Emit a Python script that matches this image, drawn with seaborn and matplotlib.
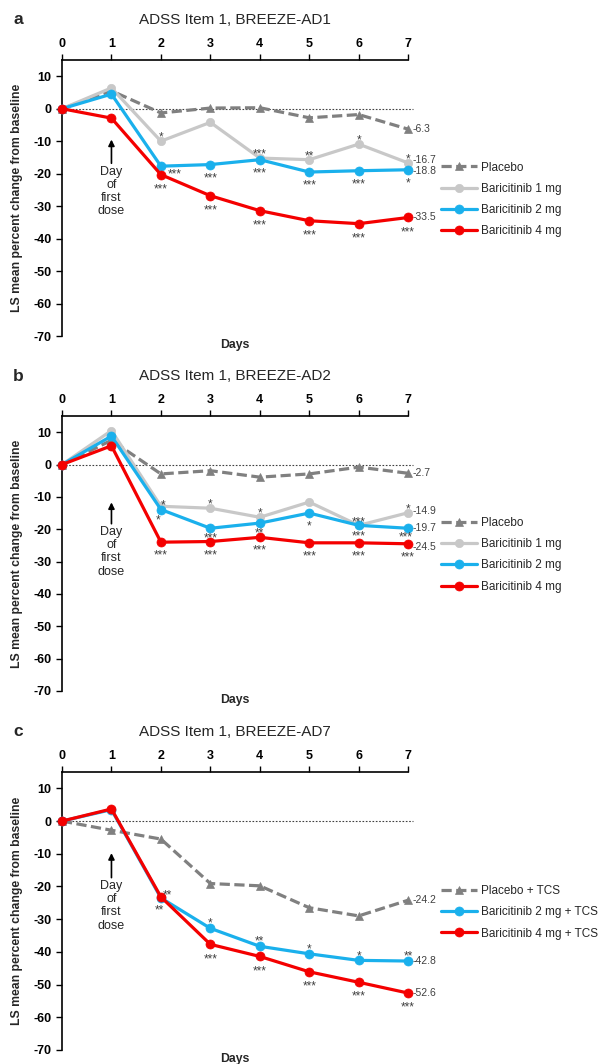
import matplotlib
matplotlib.use('Agg')
import matplotlib.pyplot as plt
import seaborn as sns

days = [0, 1, 2, 3, 4, 5, 6, 7]

# BREEZE-AD1
ad1_placebo = [0, 5.5, -1.3, 0.2, 0.3, -2.8, -1.8, -6.3]
ad1_bari1 = [0, 6.4, -10.0, -4.2, -15.2, -15.7, -10.9, -16.7]
ad1_bari2 = [0, 4.5, -17.7, -17.2, -15.7, -19.5, -19.1, -18.8]
ad1_bari4 = [0, -2.9, -20.3, -26.8, -31.4, -34.5, -35.4, -33.5]
ad1_sig1 = ['', '', '*', '', '***', '**', '*', '*']
ad1_sig2 = ['', '', '***', '***', '***', '***', '***', '*']
ad1_sig4 = ['', '', '***', '***', '***', '***', '***', '***']

# BREEZE-AD2
ad2_placebo = [0, 7.5, -2.9, -1.9, -3.9, -2.9, -0.8, -2.7]
ad2_bari1 = [0, 10.5, -12.9, -13.5, -16.3, -11.6, -18.8, -14.9]
ad2_bari2 = [0, 8.8, -13.9, -19.7, -18.1, -15.0, -18.8, -19.7]
ad2_bari4 = [0, 5.8, -24.0, -23.8, -22.5, -24.2, -24.2, -24.5]
ad2_sig1 = ['', '', '*', '*', '*', '', '***', '*']
ad2_sig2 = ['', '', '*', '***', '**', '*', '***', '***']
ad2_sig4 = ['', '', '***', '***', '***', '***', '***', '***']

# BREEZE-AD7
ad7_placebo = [0, -2.8, -5.5, -19.1, -19.8, -26.5, -29.0, -24.2]
ad7_bari2 = [0, 3.5, -23.5, -32.8, -38.3, -40.6, -42.6, -42.8]
ad7_bari4 = [0, 3.7, -23.2, -37.7, -41.4, -46.1, -49.3, -52.6]
ad7_sig2 = ['', '', '**', '*', '**', '*', '*', '**']
ad7_sig4 = ['', '', '**', '***', '***', '***', '***', '***']

yticks = [10, 0, -10, -20, -30, -40, -50, -60, -70]

GREY = '#808080'
LIGHT = '#C8C8C8'
BLUE = '#1AB0EC'
RED = '#F40000'
TXT = '#404040'

sns.set_style('ticks')
plt.rcParams['font.family'] = ['Liberation Sans', 'DejaVu Sans']
plt.rcParams['axes.unicode_minus'] = False

fig = plt.figure(figsize=(6.02, 10.64), dpi=100)


def draw_panel(ax, letter, title, series, arrow, label_off, star_off, overrides):
    ax.axhline(0, xmin=0, xmax=1.015, color=TXT, lw=0.8, ls=(0, (1.5, 1.5)),
               zorder=0, clip_on=False)
    for i, (name, vals, color, marker, ls, ms, sig) in enumerate(series):
        sns.lineplot(x=days, y=vals, ax=ax, color=color, marker=marker,
                     linestyle=ls, lw=2.3, markersize=ms, markeredgecolor=color,
                     markeredgewidth=0.5, label=name, clip_on=False, zorder=2 + i)
        # value at day 7
        ax.annotate(f'{vals[-1]:.1f}', (days[-1], vals[-1]),
                    xytext=(3, label_off.get(i, 0)), textcoords='offset points',
                    ha='left', va='center', fontsize=7.5, color=TXT)
        if sig is None:
            continue
        for d, v, s in zip(days, vals, sig):
            if not s:
                continue
            dx, dy = overrides.get((i, d), (0, star_off[i]))
            ax.annotate(s, (d, v), xytext=(dx * 0.72, -dy * 0.72 - 2.6),
                        textcoords='offset points', ha='center', va='center',
                        fontsize=8.5, color=TXT, zorder=10)

    tip, tail = arrow
    ax.annotate('', xy=(1, tip), xytext=(1, tail),
                arrowprops=dict(arrowstyle='-|>', color='black', lw=1.2,
                                mutation_scale=9, shrinkA=0, shrinkB=0))
    ax.text(1, tail - 0.8, 'Day\nof\nfirst\ndose', ha='center', va='top',
            fontsize=9, linespacing=1.12)

    ax.set_xlim(0, 7)
    ax.set_ylim(-70, 15)
    ax.xaxis.tick_top()
    ax.set_xticks(days)
    ax.set_yticks(yticks)
    ax.tick_params(labelsize=9, length=4, width=1, colors='black')
    for t in ax.get_xticklabels() + ax.get_yticklabels():
        t.set_fontweight('bold')
    for sp in ['right', 'bottom']:
        ax.spines[sp].set_visible(False)
    for sp in ['left', 'top']:
        ax.spines[sp].set_linewidth(1.2)
        ax.spines[sp].set_color('black')
    ax.set_xlabel('')
    ax.set_ylabel('LS mean percent change from baseline', fontweight='bold',
                  fontsize=8.8)
    ax.yaxis.set_label_coords(-0.113, 0.5)
    ax.text(0.5, -0.033, 'Days', transform=ax.transAxes, ha='center',
            va='center', fontweight='bold', fontsize=8.8)
    ax.text(0.5, 1.145, title, transform=ax.transAxes, ha='center',
            va='center', fontsize=11)
    ax.text(-0.127, 1.145, letter, transform=ax.transAxes, ha='center',
            va='center', fontsize=12.5, fontweight='bold')
    ax.legend(loc='center left', bbox_to_anchor=(1.095, 0.495), frameon=False,
              handlelength=3.05, handletextpad=0.35, labelspacing=0.78,
              borderpad=0, borderaxespad=0, fontsize=8.5)


dash = (0, (3.2, 1.4))

ax_a = fig.add_axes([0.103, 0.6842, 0.575, 0.2594])
draw_panel(ax_a, 'a', 'ADSS Item 1, BREEZE-AD1', [
    ('Placebo', ad1_placebo, GREY, '^', dash, 5.5, None),
    ('Baricitinib 1 mg', ad1_bari1, LIGHT, 'o', '-', 6, ad1_sig1),
    ('Baricitinib 2 mg', ad1_bari2, BLUE, 'o', '-', 6.5, ad1_sig2),
    ('Baricitinib 4 mg', ad1_bari4, RED, 'o', '-', 6.5, ad1_sig4),
], (-9.5, -16.8), {1: 2, 2: -1},
    {1: -7, 2: 10, 3: 11}, {(2, 2): (14, 5)})

ax_b = fig.add_axes([0.103, 0.3506, 0.575, 0.2584])
draw_panel(ax_b, 'b', 'ADSS Item 1, BREEZE-AD2', [
    ('Placebo', ad2_placebo, GREY, '^', dash, 5.5, None),
    ('Baricitinib 1 mg', ad2_bari1, LIGHT, 'o', '-', 6, ad2_sig1),
    ('Baricitinib 2 mg', ad2_bari2, BLUE, 'o', '-', 6.5, ad2_sig2),
    ('Baricitinib 4 mg', ad2_bari4, RED, 'o', '-', 6.5, ad2_sig4),
], (-11.7, -18.3), {1: 1, 2: 0.5, 3: -2},
    {1: -7, 2: 7, 3: 10},
    {(2, 2): (-3, 7), (2, 5): (0, 10), (1, 2): (2, -4), (2, 7): (-2, 5.5)})

ax_c = fig.add_axes([0.103, 0.0132, 0.575, 0.2612])
draw_panel(ax_c, 'c', 'ADSS Item 1, BREEZE-AD7', [
    ('Placebo + TCS', ad7_placebo, GREY, '^', dash, 5.5, None),
    ('Baricitinib 2 mg + TCS', ad7_bari2, BLUE, 'o', '-', 6.5, ad7_sig2),
    ('Baricitinib 4 mg + TCS', ad7_bari4, RED, 'o', '-', 6.5, ad7_sig4),
], (-9.8, -17.3), {},
    {1: -8, 2: 11}, {(1, 2): (6, -6), (2, 2): (-2, 10)})

fig.savefig('out.png', dpi=100)
